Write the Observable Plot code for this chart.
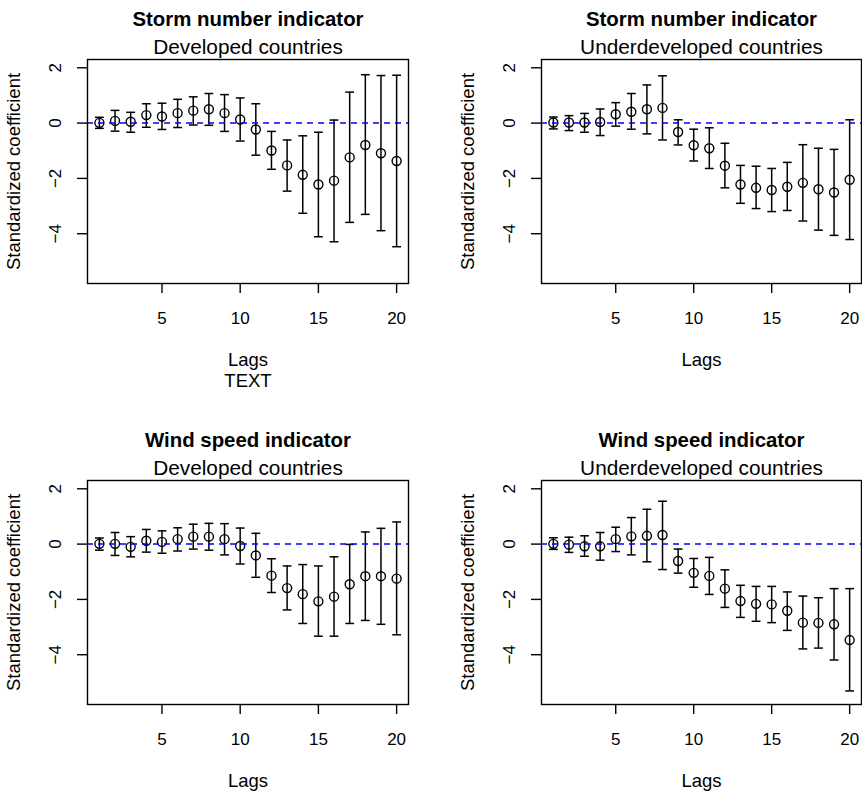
<!DOCTYPE html>
<html><head><meta charset="utf-8">
<script src="https://cdn.jsdelivr.net/npm/d3@7"></script>
<script src="https://cdn.jsdelivr.net/npm/@observablehq/plot@0.6"></script>
<style>
body{margin:0;background:#fff;}
#root{position:relative;width:862px;height:791px;background:#fff;font-family:"Liberation Sans",Arial,Helvetica,sans-serif;}
.panel{position:absolute;}
</style></head><body><div id="root"></div>
<script>
const lags = [1,2,3,4,5,6,7,8,9,10,11,12,13,14,15,16,17,18,19,20];
const xTicks = [5,10,15,20];
const yTicks = [-4,-2,0,2];

const titles = ["Storm number indicator","Storm number indicator","Wind speed indicator","Wind speed indicator"];
const subtitles = ["Developed countries","Underdeveloped countries","Developed countries","Underdeveloped countries"];
const xLabels = ["Lags\nTEXT","Lags","Lags","Lags"];
const yLabel = "Standardized coefficient";

// Storm number, developed
const stormDevEst = [0.01,0.08,0.05,0.29,0.24,0.36,0.45,0.50,0.36,0.13,-0.23,-0.99,-1.53,-1.87,-2.22,-2.08,-1.24,-0.79,-1.09,-1.37];
const stormDevLo  = [-0.19,-0.29,-0.33,-0.15,-0.23,-0.16,-0.07,-0.08,-0.30,-0.65,-1.16,-1.67,-2.46,-3.26,-4.11,-4.29,-3.59,-3.30,-3.89,-4.47];
const stormDevHi  = [0.21,0.46,0.39,0.70,0.72,0.86,0.95,1.07,1.03,0.91,0.70,-0.30,-0.61,-0.46,-0.33,0.11,1.12,1.75,1.72,1.73];
// Storm number, underdeveloped
const stormUndEst = [0.02,0.02,0.02,0.04,0.32,0.41,0.50,0.55,-0.32,-0.80,-0.91,-1.54,-2.22,-2.34,-2.42,-2.30,-2.16,-2.39,-2.51,-2.05];
const stormUndLo  = [-0.21,-0.27,-0.33,-0.45,-0.11,-0.22,-0.39,-0.61,-0.79,-1.37,-1.64,-2.34,-2.90,-3.09,-3.20,-3.16,-3.54,-3.87,-4.06,-4.21];
const stormUndHi  = [0.22,0.27,0.35,0.51,0.74,1.07,1.38,1.71,0.12,-0.22,-0.17,-0.73,-1.53,-1.56,-1.64,-1.42,-0.78,-0.91,-0.95,0.12];
// Wind speed, developed
const windDevEst = [0.01,0.01,-0.10,0.12,0.08,0.18,0.27,0.27,0.18,-0.07,-0.41,-1.14,-1.59,-1.81,-2.07,-1.90,-1.45,-1.16,-1.16,-1.25];
const windDevLo  = [-0.22,-0.41,-0.46,-0.29,-0.33,-0.25,-0.18,-0.22,-0.39,-0.72,-1.20,-1.75,-2.38,-2.87,-3.33,-3.33,-2.87,-2.76,-2.90,-3.28];
const windDevHi  = [0.22,0.42,0.27,0.53,0.48,0.59,0.72,0.75,0.74,0.58,0.39,-0.53,-0.79,-0.74,-0.79,-0.46,-0.01,0.44,0.57,0.80];
// Wind speed, underdeveloped
const windUndEst = [0.01,-0.02,-0.08,-0.08,0.18,0.28,0.30,0.33,-0.61,-1.04,-1.15,-1.61,-2.06,-2.16,-2.18,-2.41,-2.84,-2.85,-2.90,-3.47];
const windUndLo  = [-0.19,-0.30,-0.44,-0.58,-0.27,-0.39,-0.64,-0.92,-1.05,-1.56,-1.82,-2.29,-2.65,-2.79,-2.84,-3.12,-3.79,-3.76,-4.19,-5.31];
const windUndHi  = [0.23,0.25,0.30,0.42,0.61,0.96,1.26,1.55,-0.18,-0.52,-0.48,-0.93,-1.49,-1.53,-1.53,-1.73,-1.88,-1.94,-1.61,-1.61];

const series = [
  [stormDevEst, stormDevLo, stormDevHi],
  [stormUndEst, stormUndLo, stormUndHi],
  [windDevEst, windDevLo, windDevHi],
  [windUndEst, windUndLo, windUndHi]
];

const font = '"Liberation Sans",Arial,Helvetica,sans-serif';
const capSymbol = {draw(ctx, size){ const r = Math.sqrt(size/Math.PI); ctx.moveTo(-r,0); ctx.lineTo(r,0); }};

// panel boxes: [left, top, marginLeft, marginRight, marginTop, marginBottom]
const boxes = [
  [0, 0, 87, 23, 59, 112],
  [431, 0, 110, 1, 59, 112],
  [0, 396, 87, 23, 84, 87],
  [431, 396, 110, 1, 84, 87]
];

const root = document.getElementById("root");
series.forEach(([est, lo, hi], p) => {
  const data = lags.map((l, i) => ({lag: l, est: est[i], lo: lo[i], hi: hi[i]}));
  const [left, top, ml, mr, mt, mb] = boxes[p];
  const xl = xLabels[p].split("\n");
  const chart = Plot.plot({
    width: 431, height: 395,
    marginLeft: ml, marginRight: mr, marginTop: mt, marginBottom: mb,
    style: {fontFamily: font, fontSize: "17px", overflow: "visible", background: "transparent", color: "black"},
    x: {domain: [0.24, 20.76]},
    y: {domain: [-5.8, 2.3]},
    marks: [
      Plot.ruleX(data, {x: "lag", y1: "lo", y2: "hi", stroke: "black", strokeWidth: 1.5}),
      Plot.dot(data, {x: "lag", y: "lo", symbol: capSymbol, r: 4.4, stroke: "black", strokeWidth: 1.5}),
      Plot.dot(data, {x: "lag", y: "hi", symbol: capSymbol, r: 4.4, stroke: "black", strokeWidth: 1.5}),
      Plot.dot(data, {x: "lag", y: "est", r: 4.5, stroke: "black", fill: "none", strokeWidth: 1.4}),
      Plot.ruleY([0], {stroke: "#0000ff", strokeDasharray: "6,5", strokeWidth: 1.5}),
      Plot.frame({stroke: "black", strokeWidth: 1.4}),
      Plot.axisX({ticks: xTicks, tickSize: 10, tickPadding: 18, label: null, fontSize: 17, tickFormat: d => String(d), strokeWidth: 1.4}),
      Plot.axisY({ticks: yTicks, tickSize: 10, tickPadding: 17, tickRotate: -90, label: null, fontSize: 17, tickFormat: d => d < 0 ? "\u2212" + Math.abs(d) : String(d), strokeWidth: 1.4}),
      Plot.text([titles[p]], {frameAnchor: "top", dy: -34, lineAnchor: "bottom", fontWeight: "bold", fontSize: 20.4, fill: "black"}),
      Plot.text([subtitles[p]], {frameAnchor: "top", dy: -6, lineAnchor: "bottom", fontSize: 20.8, fill: "black"}),
      ...xl.map((t, k) => Plot.text([t], {frameAnchor: "bottom", dy: 82 + k * 21, lineAnchor: "bottom", fontSize: 18.5, fill: "black"})),
      Plot.text([yLabel], {frameAnchor: "left", dx: -73.5, rotate: -90, textAnchor: "middle", lineAnchor: "middle", fontSize: 18.5, fill: "black"})
    ]
  });
  chart.classList.add("panel");
  chart.style.left = left + "px";
  chart.style.top = top + "px";
  root.appendChild(chart);
});
</script>
</body></html>
